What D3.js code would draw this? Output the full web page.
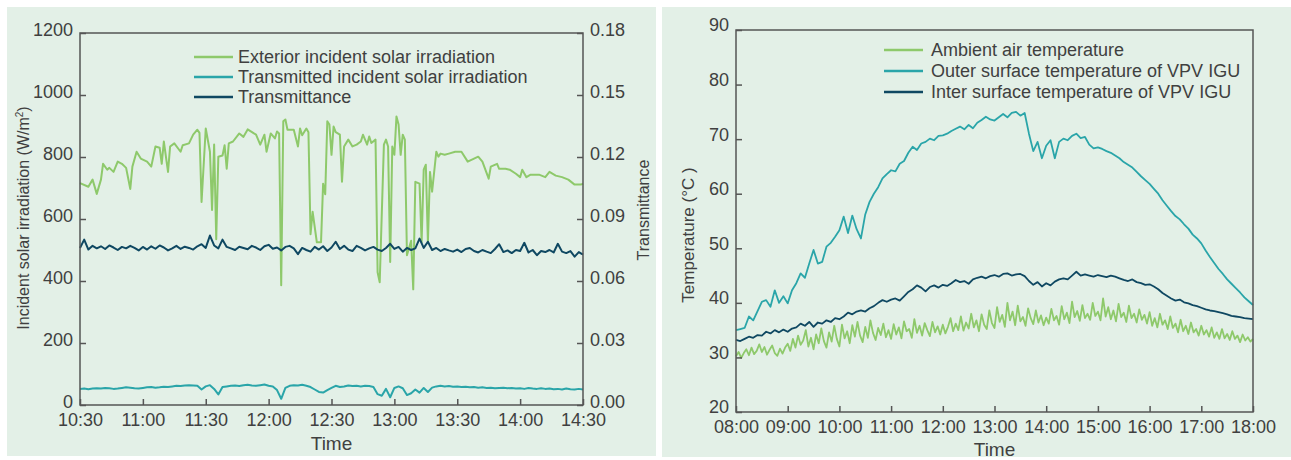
<!DOCTYPE html>
<html lang="en">
  <head>
    <meta charset="UTF-8" />
    <title>VPV IGU measurements</title>
    <style>
      body { margin: 0; background: #fff; }
      svg text { font-family: "Liberation Sans", Arial, sans-serif; fill: #404040; }
    </style>
  </head>
  <body>
    <script src="https://d3js.org/d3.v7.min.js"></script>
    <script>
      // ---- left chart: solar irradiation (minutes after 10:30) ----
      const extMinutes = [0,4,6,8,10,11,13,14,16,18,20,22,24,25,27,29,32,34,36,38,39,40,42,43,45,48,49,52,54,56,57,58,60,62,63,64,65,66,68,69,70,71,73,76,78,80,83,84,86,88,89,91,93,94,95,96,97,98,99,102,104,105,106,108,109,110,111,113,115,116,117,118,119,120,121,122,124,125,126,128,130,132,134,135,137,138,139,141,142,143,145,146,147,148,149,150,151,152,153,154,155,156,158,159,160,162,163,164,165,166,167,168,170,171,172,174,176,179,182,185,188,190,192,195,196,199,200,203,205,208,210,211,213,215,219,222,224,227,230,233,236,239,240];
      const extValues = [716,704,727,681,727,778,759,765,752,785,778,765,697,769,817,795,785,769,834,830,778,850,752,834,844,817,838,844,872,888,878,655,892,817,629,840,535,801,805,838,762,844,850,876,865,889,876,872,840,872,817,876,860,882,876,386,915,921,888,888,834,892,870,892,880,551,623,525,525,714,680,915,905,807,898,880,872,720,834,856,834,840,850,872,840,866,845,856,428,396,840,856,834,461,834,807,931,905,807,872,856,483,530,373,720,714,525,759,775,525,752,688,817,801,811,807,811,817,817,785,795,801,785,730,769,778,762,762,759,746,735,759,735,743,743,735,752,740,735,727,711,711,714];

      // every 2 min, 10:30 -> 14:30
      const transmittedValues = [52,53,51,53,54,53,55,54,52,53,55,57,56,54,53,55,57,58,56,57,59,58,60,62,61,63,64,63,62,50,60,64,52,34,58,60,62,63,61,64,65,63,62,64,66,62,60,48,20,55,62,64,63,65,62,58,50,42,40,48,55,62,58,60,63,61,62,60,62,61,58,35,30,52,25,55,60,54,32,38,50,40,55,42,56,60,62,60,61,59,60,58,59,57,58,56,57,55,56,54,55,56,54,55,53,54,52,55,53,52,54,52,53,51,52,50,53,51,50,52,50];
      const transmittanceValues = [0.0760,0.0800,0.0752,0.0770,0.0758,0.0768,0.0755,0.0772,0.0762,0.0750,0.0765,0.0758,0.0770,0.0760,0.0748,0.0765,0.0752,0.0768,0.0756,0.0772,0.0762,0.0748,0.0758,0.0770,0.0755,0.0766,0.0760,0.0752,0.0768,0.0778,0.0760,0.0820,0.0772,0.0758,0.0800,0.0765,0.0758,0.0750,0.0766,0.0760,0.0754,0.0770,0.0762,0.0750,0.0768,0.0775,0.0756,0.0762,0.0748,0.0765,0.0770,0.0758,0.0730,0.0760,0.0750,0.0742,0.0765,0.0752,0.0768,0.0745,0.0762,0.0790,0.0755,0.0770,0.0752,0.0745,0.0770,0.0760,0.0748,0.0758,0.0765,0.0752,0.0745,0.0760,0.0780,0.0755,0.0765,0.0742,0.0760,0.0750,0.0758,0.0805,0.0760,0.0790,0.0750,0.0760,0.0745,0.0755,0.0748,0.0742,0.0752,0.0740,0.0755,0.0760,0.0745,0.0738,0.0750,0.0742,0.0735,0.0755,0.0778,0.0740,0.0748,0.0735,0.0750,0.0745,0.0785,0.0738,0.0750,0.0725,0.0745,0.0740,0.0750,0.0738,0.0780,0.0742,0.0735,0.0745,0.0718,0.0740,0.0728];

      const irrTicks = [0, 200, 400, 600, 800, 1000, 1200];
      const trTicks = [0, 0.03, 0.06, 0.09, 0.12, 0.15, 0.18];
      const leftTimeTicks = ["10:30","11:00","11:30","12:00","12:30","13:00","13:30","14:00","14:30"];
      const leftLegend = ["Exterior incident solar irradiation", "Transmitted incident solar irradiation", "Transmittance"];

      // ---- right chart: temperatures 08:00 -> 18:00 ----
      // every 5 min
      const outerValues = [35.0,35.2,35.4,37.5,36.8,38.5,40.2,40.5,39.3,42.3,40.0,41.2,39.9,42.3,43.6,45.4,44.6,47.2,49.7,47.2,47.5,50.3,51.0,52.1,53.3,55.8,52.8,56.0,53.5,51.8,56.2,58.5,60.0,61.2,62.8,63.6,64.3,64.1,65.5,66.0,67.5,68.6,68.0,69.2,69.5,70.1,69.8,70.6,70.7,71.0,71.5,71.9,72.3,71.8,72.6,72.0,73.0,73.5,74.1,73.6,73.4,74.0,74.6,74.0,74.8,75.0,74.3,74.8,71.0,67.8,69.5,66.5,68.8,69.8,66.5,69.5,70.1,69.8,70.6,71.0,70.2,70.4,69.0,68.3,68.5,68.2,67.8,67.5,67.0,66.5,65.8,65.3,64.8,64.0,63.2,62.5,61.8,60.9,60.0,58.8,57.8,56.8,55.9,55.3,54.4,53.6,52.5,51.8,50.9,49.6,48.4,47.3,46.2,45.3,44.3,43.5,42.7,41.9,41.0,40.3,39.6];
      const innerValues = [33.2,33.0,33.4,33.8,33.6,34.1,34.0,34.7,34.4,35.0,34.6,35.1,34.7,35.3,35.5,36.2,35.8,36.5,35.6,36.4,36.2,36.8,36.5,37.2,37.0,37.5,38.2,37.9,38.4,38.6,38.4,39.0,39.4,40.0,40.5,40.2,40.6,40.8,40.4,41.2,42.0,42.5,43.2,42.8,42.1,42.9,43.2,42.8,43.3,43.1,43.6,44.2,43.8,44.0,43.5,44.3,44.6,44.8,44.5,44.9,45.1,44.8,45.3,45.4,45.0,45.2,45.3,44.9,44.0,43.3,43.8,43.0,43.6,43.2,43.9,44.3,44.5,44.3,45.0,45.7,45.0,45.2,45.0,44.8,45.1,44.9,44.7,45.0,44.8,44.5,44.2,44.0,44.3,43.8,43.6,43.3,43.4,43.0,42.5,41.8,41.3,40.8,40.4,40.6,40.1,39.9,39.6,39.4,39.1,38.8,38.6,38.5,38.3,38.1,37.9,37.6,37.5,37.4,37.2,37.1,37.0];
      // every 3 min
      const ambientValues = [
        30.2,31.0,29.9,30.8,31.5,30.4,31.8,30.6,31.2,32.4,31.0,31.9,30.5,31.4,32.2,30.8,30.3,31.6,30.7,31.8,
        32.5,31.2,33.4,31.8,34.0,32.3,33.1,35.0,32.0,33.6,31.5,34.2,32.6,35.3,33.0,31.8,34.6,32.9,35.8,33.4,
        32.0,36.0,33.5,34.8,32.6,35.9,33.8,36.5,34.0,32.8,35.6,33.6,36.8,34.5,33.2,35.4,34.1,36.2,33.7,35.0,
        33.4,36.1,34.2,35.5,33.5,36.6,34.8,35.2,33.6,37.0,34.5,35.8,34.0,36.3,35.0,33.9,36.5,34.6,35.7,34.2,
        36.0,34.4,35.6,37.2,34.8,36.2,35.0,37.5,34.9,36.4,35.3,38.0,35.5,36.8,34.8,37.9,36.0,35.2,38.6,36.3,
        35.4,39.2,36.5,37.8,35.6,40.0,36.8,38.4,35.9,39.5,36.6,37.4,35.8,39.0,37.2,36.1,38.6,36.4,37.7,35.9,
        37.3,36.2,38.9,36.8,37.6,36.0,39.4,37.0,38.2,36.3,40.2,37.4,38.5,36.7,39.6,37.2,38.0,36.9,40.0,37.6,
        38.4,36.8,40.8,37.5,39.2,37.0,38.6,36.6,39.8,37.4,38.2,36.5,39.5,37.2,38.0,36.4,38.8,36.9,37.8,36.2,
        38.3,35.8,37.2,35.5,38.0,36.0,36.8,35.2,37.5,35.4,36.2,34.6,36.9,34.8,35.8,34.3,36.4,34.6,35.2,34.0,
        35.8,34.2,35.0,33.8,35.5,33.6,34.6,33.4,35.2,33.5,34.3,33.2,34.8,33.4,34.0,32.8,34.2,33.1,33.7,32.9,
        33.4
      ];
      const tempTicks = [20, 30, 40, 50, 60, 70, 80, 90];
      const rightTimeTicks = ["08:00","09:00","10:00","11:00","12:00","13:00","14:00","15:00","16:00","17:00","18:00"];
      const rightLegend = ["Ambient air temperature", "Outer surface temperature of VPV IGU", "Inter surface temperature of VPV IGU"];

      const green = "#8ec96b", teal = "#2aa5a9", navy = "#0f4862";
      const panelFill = "#e3f0e7", axisColor = "#555";

      const parse = d3.timeParse("%H:%M");
      const fmt = d3.timeFormat("%H:%M");

      const svg = d3.select("body").append("svg").attr("width", 1291).attr("height", 460);

      svg.append("rect").attr("x", 7).attr("y", 7).attr("width", 649).attr("height", 449).attr("fill", panelFill);
      svg.append("rect").attr("x", 662).attr("y", 7).attr("width", 629).attr("height", 450).attr("fill", panelFill);

      function styleAxis(g) {
        g.select(".domain").remove();
        g.selectAll(".tick line").attr("stroke", axisColor).attr("stroke-width", 1.5);
        g.selectAll(".tick text").attr("font-size", 18).attr("fill", "#454545");
      }
      // y labels sit a little higher than the tick in the original
      function raiseLabels(g) {
        g.selectAll(".tick text").attr("dy", "0.14em");
      }

      function series(start, total, values) {
        // spread evenly sampled values across the time span
        const step = total / (values.length - 1);
        return values.map((v, i) => ({ t: d3.timeMinute.offset(start, Math.round(i * step * 100) / 100), v }));
      }

      function legend(g, items, colors, x0, textX, y0, gap, size) {
        items.forEach((name, i) => {
          g.append("line")
            .attr("x1", x0).attr("x2", x0 + 39)
            .attr("y1", y0 + i * gap).attr("y2", y0 + i * gap)
            .attr("stroke", colors[i]).attr("stroke-width", 2.5);
          g.append("text")
            .attr("x", textX).attr("y", y0 + i * gap).attr("dy", "0.35em")
            .attr("font-size", size).text(name);
        });
      }

      // ================= left chart =================
      const l = { left: 80, right: 583, top: 33, bottom: 405 };
      const lStart = parse("10:30");
      const xL = d3.scaleTime().domain([lStart, parse("14:30")]).range([l.left, l.right]);
      const yIrr = d3.scaleLinear().domain([0, 1200]).range([l.bottom, l.top]);
      const yTr = d3.scaleLinear().domain([0, 0.18]).range([l.bottom, l.top]);

      const left = svg.append("g");

      const extData = extMinutes.map((m, i) => ({ t: d3.timeMinute.offset(lStart, m), v: extValues[i] }));
      const irrLine = d3.line().x(d => xL(d.t)).y(d => yIrr(d.v));
      const trLine = d3.line().x(d => xL(d.t)).y(d => yTr(d.v));

      left.append("path").datum(extData).attr("d", irrLine)
        .attr("fill", "none").attr("stroke", green).attr("stroke-width", 2).attr("stroke-linejoin", "round");
      left.append("path").datum(series(lStart, 240, transmittedValues)).attr("d", irrLine)
        .attr("fill", "none").attr("stroke", teal).attr("stroke-width", 2).attr("stroke-linejoin", "round");
      left.append("path").datum(series(lStart, 240, transmittanceValues)).attr("d", trLine)
        .attr("fill", "none").attr("stroke", navy).attr("stroke-width", 2).attr("stroke-linejoin", "round");

      left.append("rect")
        .attr("x", l.left).attr("y", l.top).attr("width", l.right - l.left).attr("height", l.bottom - l.top)
        .attr("fill", "none").attr("stroke", axisColor).attr("stroke-width", 1.5);

      left.append("g").attr("transform", `translate(0,${l.bottom})`)
        .call(d3.axisBottom(xL).tickValues(leftTimeTicks.map(parse)).tickFormat(fmt).tickSize(-6).tickPadding(8))
        .call(styleAxis);
      left.append("g").attr("transform", `translate(${l.left},0)`)
        .call(d3.axisLeft(yIrr).tickValues(irrTicks).tickFormat(d3.format("d")).tickSize(-6).tickPadding(7))
        .call(styleAxis).call(raiseLabels);
      left.append("g").attr("transform", `translate(${l.right},0)`)
        .call(d3.axisRight(yTr).tickValues(trTicks).tickFormat(d3.format(".2f")).tickSize(-6).tickPadding(7))
        .call(styleAxis).call(raiseLabels);

      left.append("text").attr("x", (l.left + l.right) / 2).attr("y", 450)
        .attr("text-anchor", "middle").attr("font-size", 19).text("Time");
      left.append("text").attr("transform", "translate(29,218) rotate(-90)")
        .attr("text-anchor", "middle").attr("font-size", 16)
        .html("Incident solar irradiation (W/m<tspan dy='-6' font-size='10'>2</tspan><tspan dy='6'>)</tspan>");
      left.append("text").attr("transform", "translate(649,210) rotate(-90)")
        .attr("text-anchor", "middle").attr("font-size", 16).text("Transmittance");

      legend(left, leftLegend, [green, teal, navy], 194, 238, 57, 20, 18);

      // ================= right chart =================
      const r = { left: 736, right: 1253, top: 30, bottom: 412 };
      const rStart = parse("08:00");
      const xR = d3.scaleTime().domain([rStart, parse("18:00")]).range([r.left, r.right]);
      const yT = d3.scaleLinear().domain([20, 90]).range([r.bottom, r.top]);
      const tLine = d3.line().x(d => xR(d.t)).y(d => yT(d.v));

      const right = svg.append("g");

      [[ambientValues, green], [outerValues, teal], [innerValues, navy]].forEach(([vals, c]) => {
        right.append("path").datum(series(rStart, 600, vals)).attr("d", tLine)
          .attr("fill", "none").attr("stroke", c).attr("stroke-width", 1.8).attr("stroke-linejoin", "round");
      });

      right.append("rect")
        .attr("x", r.left).attr("y", r.top).attr("width", r.right - r.left).attr("height", r.bottom - r.top)
        .attr("fill", "none").attr("stroke", axisColor).attr("stroke-width", 1.5);

      right.append("g").attr("transform", `translate(0,${r.bottom})`)
        .call(d3.axisBottom(xR).tickValues(rightTimeTicks.map(parse)).tickFormat(fmt).tickSize(-6).tickPadding(8))
        .call(styleAxis);
      right.append("g").attr("transform", `translate(${r.left},0)`)
        .call(d3.axisLeft(yT).tickValues(tempTicks).tickSize(-6).tickPadding(7))
        .call(styleAxis).call(g => g.selectAll(".tick text").attr("dy", "0.05em"));

      right.append("text").attr("x", (r.left + r.right) / 2).attr("y", 456)
        .attr("text-anchor", "middle").attr("font-size", 19).text("Time");
      right.append("text").attr("transform", "translate(694,235) rotate(-90)")
        .attr("text-anchor", "middle").attr("font-size", 17).text("Temperature (°C )");

      legend(right, rightLegend, [green, teal, navy], 884, 931, 50, 21, 18);
    </script>
  </body>
</html>
